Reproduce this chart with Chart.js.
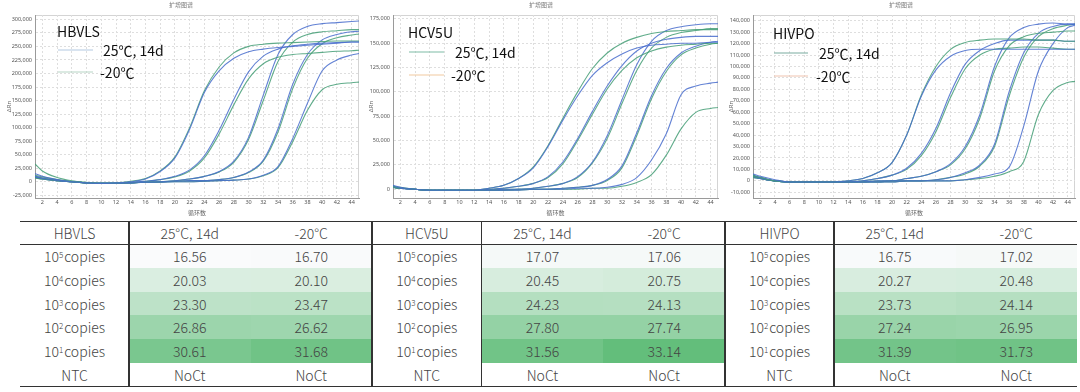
<!DOCTYPE html>
<html>
<head>
<meta charset="utf-8">
<script src="https://cdn.jsdelivr.net/npm/chart.js@4.4.1/dist/chart.umd.min.js"></script>
<style>
  html, body { margin:0; padding:0; background:#fff; }
  body { width:1080px; height:392px; position:relative; overflow:hidden; font-family:"Noto Sans CJK SC","Noto Sans",sans-serif; }
  .cw { position:absolute; top:0; }
  .cell { position:absolute; display:flex; align-items:center; justify-content:center; font-size:14px; font-weight:300; color:#444; white-space:nowrap; box-sizing:border-box; }
  .hl, .vl { position:absolute; background:#333; }
  sup.e { font-size:8px; position:relative; top:-1px; vertical-align:6px; line-height:0; margin-right:1px; }
</style>
</head>
<body>
<div class="cw" style="left:0px"><canvas id="c1" width="362" height="216"></canvas></div>
<div class="cw" style="left:362px"><canvas id="c2" width="358" height="216"></canvas></div>
<div class="cw" style="left:722px"><canvas id="c3" width="358" height="216"></canvas></div>
<div id="tbl"></div>
<script>
// ---------------- DATA ----------------
// PCR cycles at which the curves were read (ΔRn values in thousands)
const cycles = [1,2,4,6,8,10,12,14,16,18,20,22,24,26,28,30,32,34,36,38,40,42,44,45];
const xTickValues = [2,4,6,8,10,12,14,16,18,20,22,24,26,28,30,32,34,36,38,40,42,44];

// HBVLS curves (ΔRn, thousands)
const hbvls25_1e5 = [15,10,4,0,-2,-3,-2,0,5,19,44,97,165,205,228,240,245,248,250,252,254,256,258,258];
const hbvlsM20_1e5 = [12,9,4,0,-2,-3,-2,1,6,20,46,100,168,212,238,250,254,256,257,258,259,260,260,260];
const hbvls25_1e4 = [10,7,3,0,-2,-3,-3,-1,1,4,10,22,48,95,152,203,232,245,251,254,256,257,258,258];
const hbvlsM20_1e4 = [33,20,8,2,-1,-3,-3,-1,1,4,9,20,44,88,142,190,218,230,235,237,239,241,242,243];
const hbvls25_1e3 = [10,7,3,0,-2,-3,-3,-2,-1,0,2,5,10,19,38,82,160,235,272,287,292,294,296,297];
const hbvlsM20_1e3 = [8,6,2,0,-2,-3,-3,-2,-1,0,2,5,10,18,36,78,150,222,258,272,277,279,281,281];
const hbvls25_1e2 = [9,6,2,0,-2,-3,-3,-2,-1,0,1,2,2,4,8,18,40,98,180,235,262,272,277,278];
const hbvlsM20_1e2 = [8,5,2,0,-2,-3,-3,-2,-1,0,1,2,2,4,8,17,38,92,172,228,255,266,271,273];
const hbvls25_1e1 = [8,5,2,0,-2,-3,-3,-2,-1,-1,0,0,1,2,3,5,12,28,80,145,205,225,234,237];
const hbvlsM20_1e1 = [7,5,2,0,-2,-3,-3,-2,-1,-1,0,0,1,2,3,5,11,26,74,132,170,180,183,184];
const hbvlsYTicks = [-25,0,25,50,75,100,125,150,175,200,225,250,275,300];

// HCV5U curves
const hcv25_1e5 = [4,2,0,-1,-1,-1,-1,1,4,11,22,44,71,96,117,130,139,145,148,149,150,150,151,151];
const hcvM20_1e5 = [3,2,0,-1,-1,-1,-1,1,4,11,23,45,73,100,124,140,150,156,160,162,163,164,164,164];
const hcv25_1e4 = [3,1,0,-1,-1,-1,-1,0,1,3,6,13,28,52,80,106,127,142,150,154,156,157,157,157];
const hcvM20_1e4 = [2,1,0,-1,-1,-1,-1,0,1,3,6,12,26,50,77,103,122,135,142,146,148,149,150,150];
const hcv25_1e3 = [3,1,0,-1,-1,-1,-1,-1,0,0,1,3,6,13,28,55,92,128,152,163,167,169,170,170];
const hcvM20_1e3 = [2,1,0,-1,-1,-1,-1,-1,0,0,1,3,6,12,27,52,88,122,145,156,161,163,165,165];
const hcv25_1e2 = [2,1,0,-1,-1,-1,-1,-1,-1,0,0,0,1,2,4,10,24,58,96,124,140,147,151,152];
const hcvM20_1e2 = [2,1,0,-1,-1,-1,-1,-1,-1,0,0,0,1,2,4,9,22,55,93,121,138,145,149,150];
const hcv25_1e1 = [2,1,0,-1,-1,-1,-1,-1,-1,-1,0,0,0,1,1,2,5,12,30,57,97,106,109,110];
const hcvM20_1e1 = [2,1,0,-1,-1,-1,-1,-1,-1,-1,0,0,0,0,1,1,3,7,15,35,62,79,83,84];
const hcvYTicks = [0,25,50,75,100,125,150,175];

// HIVPO curves
const hiv25_1e5 = [6,4,1,-1,-1,-1,-1,0,2,7,16,40,74,97,109,114,115,115,115,115,115,115,115,115];
const hivM20_1e5 = [5,3,0,-1,-1,-1,-1,0,2,7,16,40,75,100,115,121,123,124,124,124,123,123,122,122];
const hiv25_1e4 = [5,3,0,-1,-1,-1,-1,-1,0,2,5,11,24,46,77,102,114,120,123,123,123,123,122,122];
const hivM20_1e4 = [4,3,0,-1,-1,-1,-1,-1,0,2,5,10,22,43,73,98,110,115,116,117,117,116,115,115];
const hiv25_1e3 = [4,2,0,-1,-1,-1,-1,-1,-1,0,0,2,4,8,15,30,58,100,125,134,137,138,137,137];
const hivM20_1e3 = [4,2,0,-1,-1,-1,-1,-1,-1,0,0,2,4,8,14,28,55,96,118,126,129,130,131,131];
const hiv25_1e2 = [4,2,0,-1,-1,-1,-1,-1,-1,-1,0,0,0,1,3,7,14,32,78,112,129,135,137,137];
const hivM20_1e2 = [3,2,0,-1,-1,-1,-1,-1,-1,-1,0,0,0,1,3,6,13,30,74,108,126,133,136,137];
const hiv25_1e1 = [3,2,0,-1,-1,-1,-1,-1,-1,-1,-1,0,0,0,0,1,3,6,12,48,96,120,134,136];
const hivM20_1e1 = [3,2,0,-1,-1,-1,-1,-1,-1,-1,-1,0,0,0,0,1,2,4,8,17,58,79,86,87];
const hivYTicks = [-10,0,10,20,30,40,50,60,70,80,90,100,110,120,130,140];

// Table data (Ct values)
const targets = ['HBVLS','HCV5U','HIVPO'];
const conditionLabels = ['25°C, 14d','-20°C'];
const legendLabels = ['25℃, 14d','-20℃'];
const copyExponents = [5,4,3,2,1];
const ntcLabel = 'NTC';
const noCtLabel = 'NoCt';
const ctHBVLS_25 = [16.56,20.03,23.30,26.86,30.61];
const ctHBVLS_m20 = [16.70,20.10,23.47,26.62,31.68];
const ctHCV5U_25 = [17.07,20.45,24.23,27.80,31.56];
const ctHCV5U_m20 = [17.06,20.75,24.13,27.74,33.14];
const ctHIVPO_25 = [16.75,20.27,23.73,27.24,31.39];
const ctHIVPO_m20 = [17.02,20.48,24.14,26.95,31.73];

// ---------------- CHARTS ----------------
Chart.defaults.font.family = '"Noto Sans","Noto Sans CJK SC",sans-serif';
const BLUE = 'rgba(72,108,205,0.85)';
const GREEN = 'rgba(68,158,118,0.85)';

function fmtK(v){ return (v*1000).toLocaleString('en-US'); }

function makeChart(id, cfg){
  const series = [];
  cfg.s25.forEach((arr, i) => {
    series.push({values: arr, color: BLUE});
    series.push({values: cfg.sM20[i], color: GREEN});
  });
  const deco = {
    id: 'deco_' + id,
    beforeDraw(chart){
      const {ctx, chartArea: a} = chart;
      ctx.save();
      ctx.fillStyle = '#fff';
      ctx.fillRect(0,0,chart.width,chart.height);
      ctx.strokeStyle = '#d4d4d4'; ctx.lineWidth = 1;
      ctx.beginPath();
      ctx.moveTo(a.left, a.top+0.5); ctx.lineTo(a.right-0.5, a.top+0.5); ctx.lineTo(a.right-0.5, a.bottom);
      ctx.stroke();
      ctx.restore();
    },
    afterDraw(chart){
      const ctx = chart.ctx;
      ctx.save();
      ctx.fillStyle = '#777';
      ctx.font = '6px "Noto Sans CJK SC"';
      ctx.textAlign = 'center'; ctx.textBaseline = 'middle';
      ctx.fillText('扩增图谱', chart.width/2, 5);
      const L = cfg.legend;
      ctx.fillStyle = '#111';
      ctx.textAlign = 'left';
      ctx.font = '14px "Noto Sans CJK SC"';
      ctx.fillText(cfg.name, L.nameX, L.nameY);
      ctx.lineWidth = 1.2;
      L.rows.forEach((r, i) => {
        ctx.strokeStyle = L.colors[i];
        ctx.beginPath(); ctx.moveTo(L.lineX1, r.y); ctx.lineTo(L.lineX2, r.y); ctx.stroke();
        ctx.fillText(legendLabels[i], r.tx, r.y + 1);
      });
      ctx.restore();
    }
  };
  return new Chart(document.getElementById(id), {
    type: 'line',
    data: {
      datasets: series.map(s => ({
        data: cycles.map((c, i) => ({x: c, y: s.values[i]})),
        borderColor: s.color, borderWidth: 1.1, pointRadius: 0,
        cubicInterpolationMode: 'monotone', fill: false
      }))
    },
    options: {
      animation: false, responsive: false, devicePixelRatio: 1,
      layout: { padding: { left: 0, right: cfg.padRight, top: 15, bottom: 0 } },
      plugins: { legend: {display: false}, tooltip: {enabled: false}, title: {display: false} },
      scales: {
        x: {
          type: 'linear', min: 1, max: 45,
          afterBuildTicks: s => { s.ticks = xTickValues.map(v => ({value: v})); },
          afterFit: s => { s.height = 18; },
          ticks: { font: {size: 5.5}, color: '#555', padding: 1, maxRotation: 0, autoSkip: false },
          grid: { color: '#dedede', drawTicks: false },
          border: { color: '#9a9a9a', dash: [2,2] },
          title: { display: true, text: '循环数', font: {size: 6, family: '"Noto Sans CJK SC"'}, color: '#666', padding: 0 }
        },
        y: {
          min: cfg.yMin, max: cfg.yMax,
          afterBuildTicks: s => { s.ticks = cfg.yTicks.map(v => ({value: v})); },
          afterFit: s => { s.width = cfg.yWidth; },
          ticks: { font: {size: 5.5}, color: '#555', padding: 3, callback: v => fmtK(v) },
          grid: { color: '#dedede', drawTicks: false },
          border: { color: '#9a9a9a', dash: [2,2] },
          title: { display: true, text: 'ΔRn', font: {size: 6}, color: '#666', padding: {top: 6, bottom: 0} }
        }
      }
    },
    plugins: [deco]
  });
}

makeChart('c1', {
  name: 'HBVLS',
  s25: [hbvls25_1e5, hbvls25_1e4, hbvls25_1e3, hbvls25_1e2, hbvls25_1e1],
  sM20: [hbvlsM20_1e5, hbvlsM20_1e4, hbvlsM20_1e3, hbvlsM20_1e2, hbvlsM20_1e1],
  yTicks: hbvlsYTicks, yMin: -30, yMax: 308, yWidth: 35, padRight: 3,
  legend: { nameX: 57, nameY: 32, lineX1: 58, lineX2: 93,
    colors: ['#b3c9e2', '#b8d5c5'],
    rows: [{y: 50, tx: 103}, {y: 72, tx: 100}] }
});
makeChart('c2', {
  name: 'HCV5U',
  s25: [hcv25_1e5, hcv25_1e4, hcv25_1e3, hcv25_1e2, hcv25_1e1],
  sM20: [hcvM20_1e5, hcvM20_1e4, hcvM20_1e3, hcvM20_1e2, hcvM20_1e1],
  yTicks: hcvYTicks, yMin: -9, yMax: 179, yWidth: 31, padRight: 2,
  legend: { nameX: 46, nameY: 33, lineX1: 47, lineX2: 82,
    colors: ['#7fbba5', '#f2c9a0'],
    rows: [{y: 52, tx: 93}, {y: 75, tx: 89}] }
});
makeChart('c3', {
  name: 'HIVPO',
  s25: [hiv25_1e5, hiv25_1e4, hiv25_1e3, hiv25_1e2, hiv25_1e1],
  sM20: [hivM20_1e5, hivM20_1e4, hivM20_1e3, hivM20_1e2, hivM20_1e1],
  yTicks: hivYTicks, yMin: -15, yMax: 145, yWidth: 31, padRight: 5,
  legend: { nameX: 51, nameY: 34, lineX1: 52, lineX2: 86,
    colors: ['#7aaba0', '#f0c3b0'],
    rows: [{y: 53, tx: 97}, {y: 76, tx: 94}] }
});

// ---------------- TABLE ----------------
(function(){
  const tbl = document.getElementById('tbl');
  const colX = [20,129,250.5,372,481.7,603.3,725,834,955.5,1077];
  const rowY = [221.7,244.3,268,291.7,315.4,339.1,362.8,386.5];
  const blocks = [
    [ctHBVLS_25, ctHBVLS_m20],
    [ctHCV5U_25, ctHCV5U_m20],
    [ctHIVPO_25, ctHIVPO_m20]
  ];
  const all = blocks.flat(2);
  const vmin = Math.min(...all), vmax = Math.max(...all);
  const lo = [250,251,252], hi = [99,190,123];
  function shade(v){
    const t = (v - vmin) / (vmax - vmin);
    const c = lo.map((l, k) => Math.round(l + (hi[k] - l) * t));
    return `rgb(${c[0]},${c[1]},${c[2]})`;
  }
  function cell(x1, x2, y1, y2, html, bg){
    const d = document.createElement('div');
    d.className = 'cell';
    d.style.left = x1 + 'px'; d.style.width = (x2 - x1) + 'px';
    d.style.top = y1 + 'px'; d.style.height = (y2 - y1) + 'px';
    if (bg) d.style.background = bg;
    d.innerHTML = html;
    tbl.appendChild(d);
  }
  blocks.forEach((blk, b) => {
    const c0 = 3*b;
    cell(colX[c0], colX[c0+1], rowY[0], rowY[1], targets[b]);
    conditionLabels.forEach((lab, j) => cell(colX[c0+1+j], colX[c0+2+j], rowY[0], rowY[1], lab));
    copyExponents.forEach((e, r) => {
      cell(colX[c0], colX[c0+1], rowY[r+1], rowY[r+2], `10<sup class="e">${e}</sup>copies`);
      blk.forEach((vals, j) => cell(colX[c0+1+j], colX[c0+2+j], rowY[r+1], rowY[r+2], vals[r].toFixed(2), shade(vals[r])));
    });
    cell(colX[c0], colX[c0+1], rowY[6], rowY[7], ntcLabel);
    blk.forEach((vals, j) => cell(colX[c0+1+j], colX[c0+2+j], rowY[6], rowY[7], noCtLabel));
  });
  [rowY[0], rowY[1], rowY[7]].forEach(y => {
    const d = document.createElement('div'); d.className = 'hl';
    d.style.left = colX[0] + 'px'; d.style.width = (colX[9] - colX[0]) + 'px';
    d.style.top = (y - 0.65) + 'px'; d.style.height = '1.3px';
    tbl.appendChild(d);
  });
  [colX[1], colX[3], colX[4], colX[6], colX[7]].forEach(x => {
    const d = document.createElement('div'); d.className = 'vl';
    d.style.left = (x - 0.8) + 'px'; d.style.width = '1.6px';
    d.style.top = rowY[0] + 'px'; d.style.height = (rowY[7] - rowY[0]) + 'px';
    tbl.appendChild(d);
  });
})();
</script>
</body>
</html>
